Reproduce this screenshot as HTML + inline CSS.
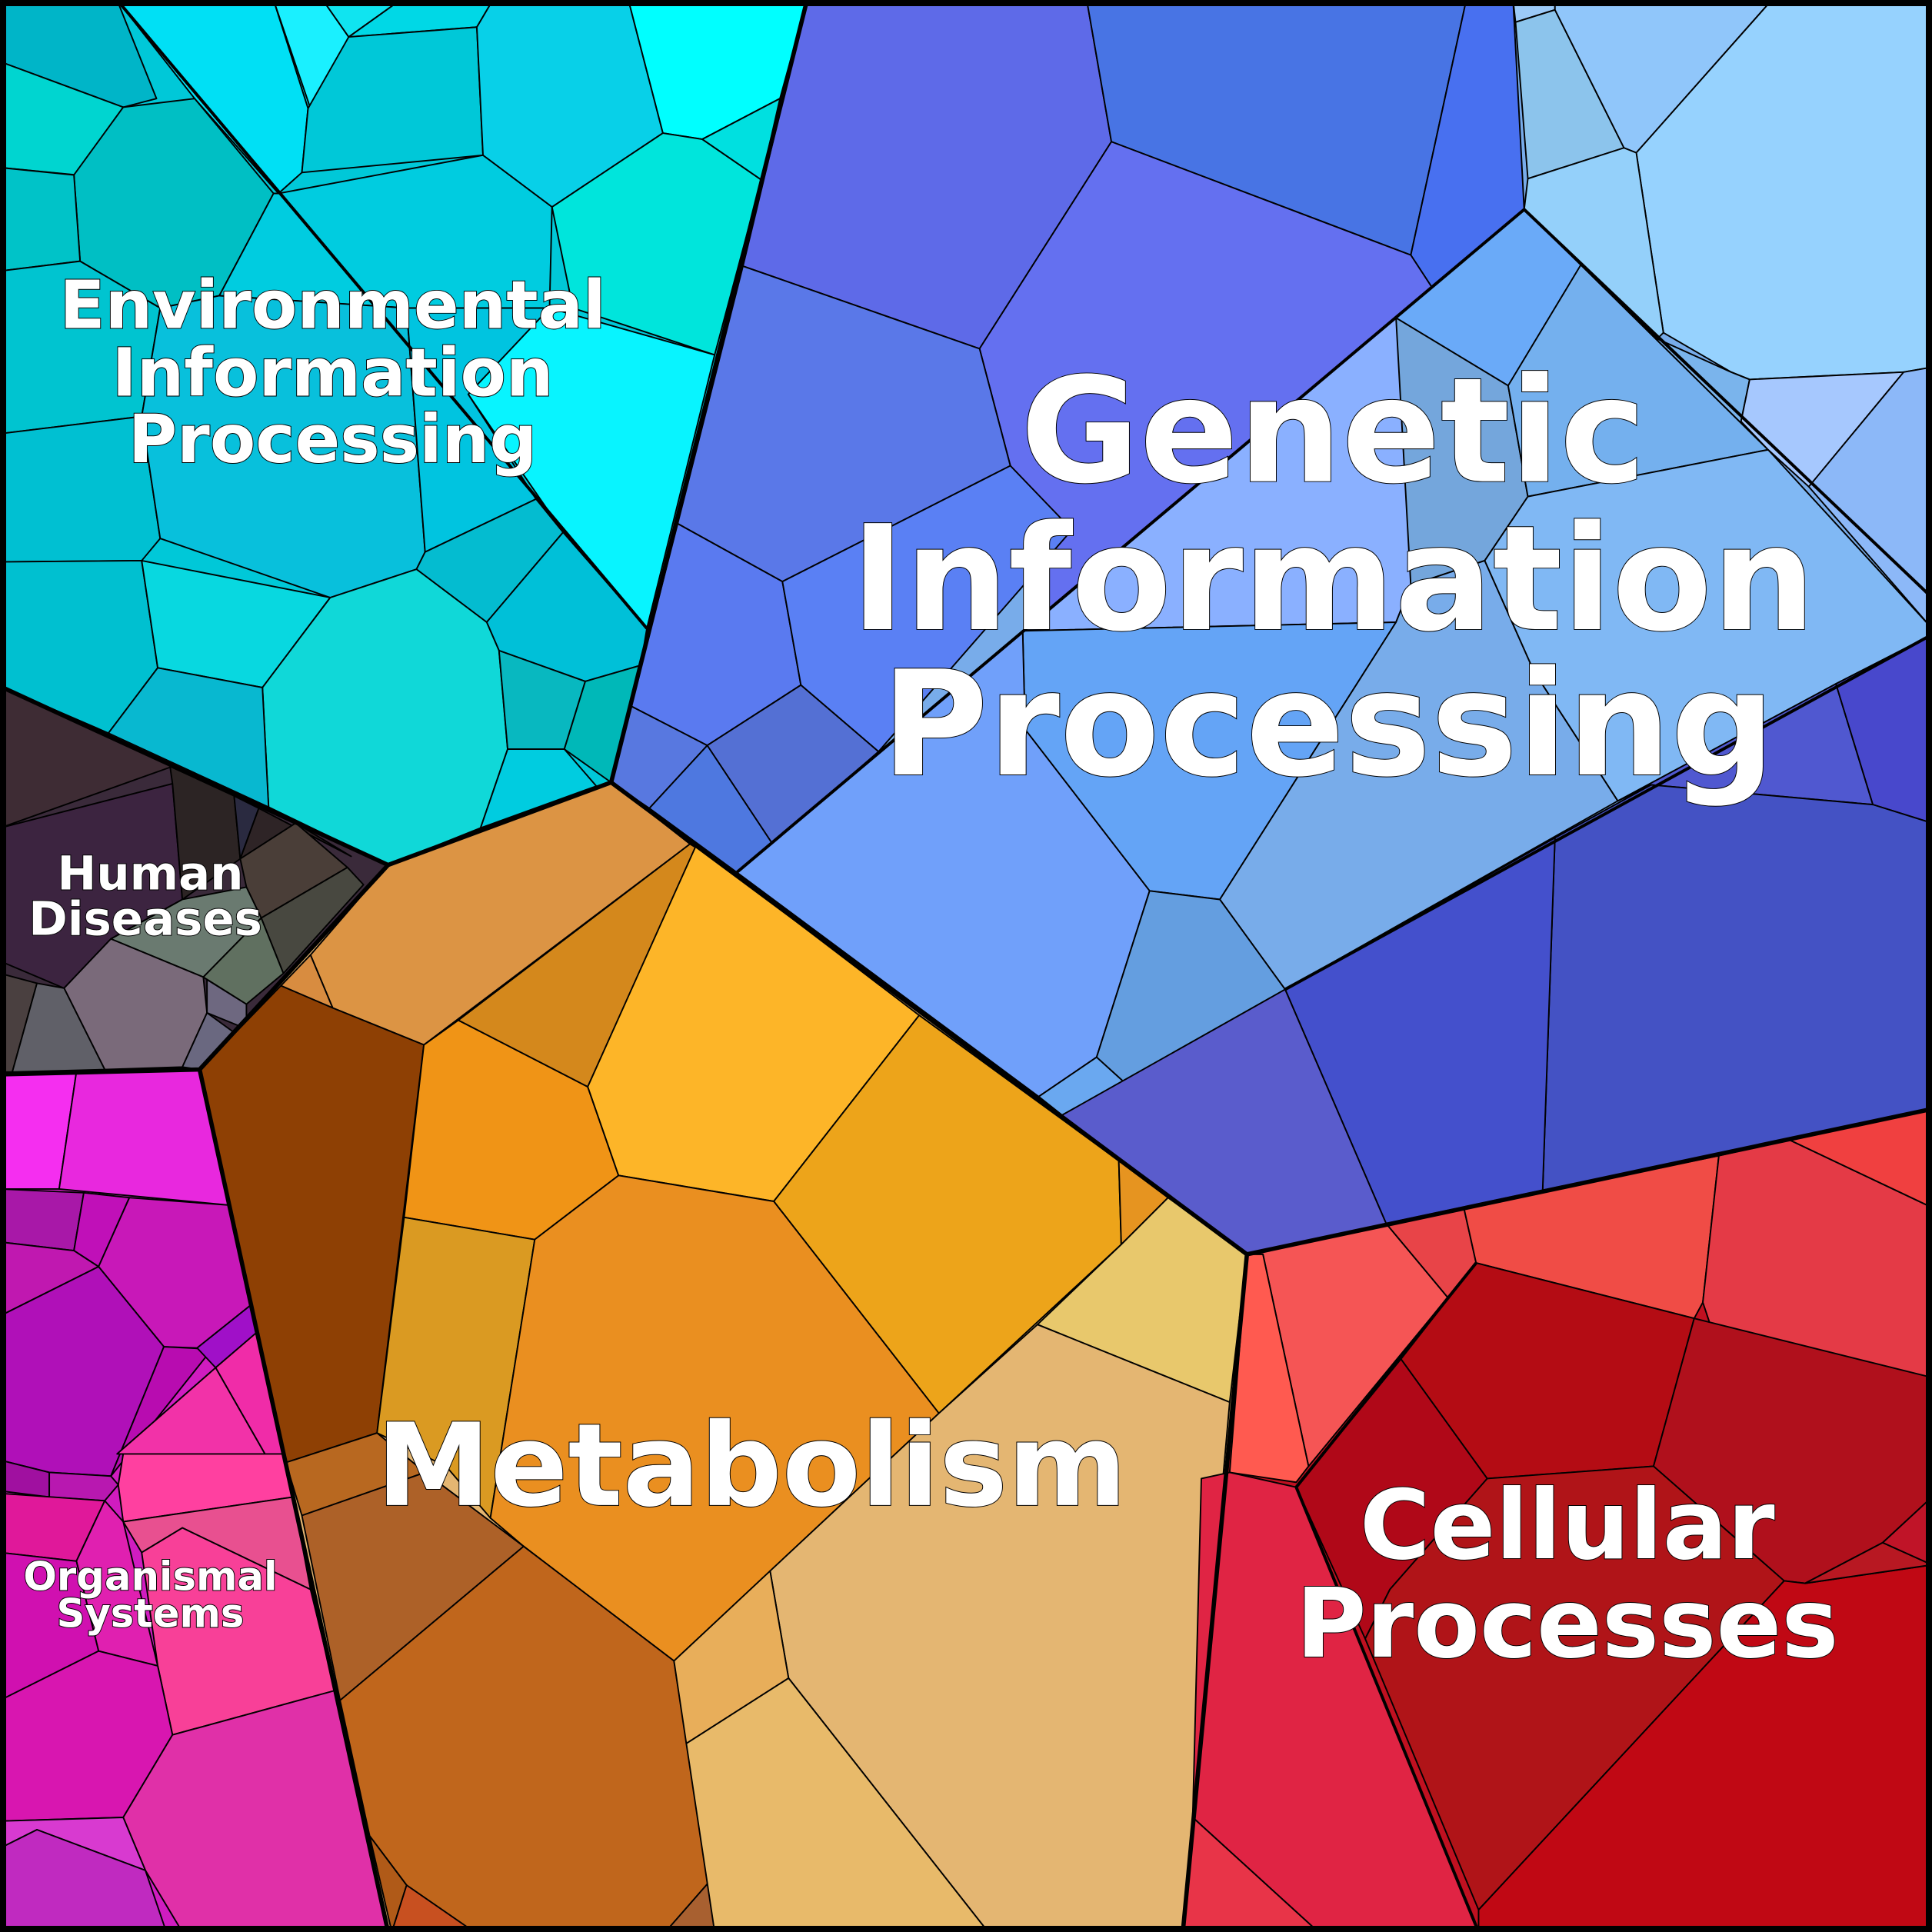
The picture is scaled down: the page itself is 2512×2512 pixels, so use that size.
<!DOCTYPE html>
<html><head><meta charset="utf-8"><style>
html,body{margin:0;padding:0;background:#fff}
svg{display:block}
text{font-family:"DejaVu Sans","Liberation Sans",sans-serif;font-weight:bold;fill:#fff;stroke:#000;stroke-width:1.2;paint-order:stroke;text-anchor:middle;dominant-baseline:central}
</style></head><body>
<svg width="2512" height="2512" viewBox="0 0 1568 1568" xmlns="http://www.w3.org/2000/svg">
<g stroke="none">
<polygon fill="#00c8d8" points="0,0 655,0 496,635 315,702 0,557"/>
<polygon fill="#3a2a3a" points="0,557 315,702 162,868 0,872"/>
<polygon fill="#d01cc0" points="0,872 162,868 315,1568 0,1568"/>
<polygon fill="#e4b672" points="315,702 496,635 1012,1018 960,1568 315,1568 162,868"/>
<polygon fill="#78acea" points="655,0 1568,0 1568,900 1012,1018 496,635"/>
<polygon fill="#c01020" points="1012,1018 1568,900 1568,1568 960,1568"/>
</g>
<g stroke="#000" stroke-width="1.2" stroke-linejoin="round">
<!-- Environmental -->
<polygon fill="#00b5c8" points="0,0 95,0 127,80 100,87 0,50"/>
<polygon fill="#00d5d0" points="0,50 100,87 62,142 0,136"/>
<polygon fill="#00bfc4" points="100,87 158,80 222,157 178,240 130,250 65,212 60,142"/>
<polygon fill="#00c3c8" points="0,136 60,142 65,212 0,220"/>
<polygon fill="#00e0f5" points="95,0 222,0 250,88 245,140 226,157 158,80"/>
<polygon fill="#1af0ff" points="222,0 262,0 283,30 252,88"/>
<polygon fill="#10e4f0" points="262,0 325,0 283,30"/>
<polygon fill="#00d8e6" points="283,30 325,0 400,0 387,22"/>
<polygon fill="#00c8d8" points="250,88 283,30 387,22 392,126 245,140"/>
<polygon fill="#08d0e8" points="387,22 400,0 510,0 538,108 448,168 392,126"/>
<polygon fill="#00ffff" points="510,0 655,0 633,80 570,113 538,108"/>
<polygon fill="#00e5dc" points="538,108 570,113 618,146 580,288 465,250 448,168"/>
<polygon fill="#00e0e0" points="570,113 633,80 618,146"/>
<polygon fill="#00cce0" points="226,157 392,126 448,168 446,250 330,250 178,240 222,157"/>
<polygon fill="#08f4ff" points="446,250 580,288 525,510 457,432 380,320"/>
<polygon fill="#00c4d0" points="0,220 65,212 130,250 115,338 0,352"/>
<polygon fill="#00c0d2" points="0,352 115,338 130,437 115,455 0,456"/>
<polygon fill="#08c0dc" points="115,338 130,250 178,240 330,250 345,448 338,462 268,485 130,437"/>
<polygon fill="#00c4e0" points="330,250 446,250 380,320 435,405 345,448"/>
<polygon fill="#04bcd0" points="345,448 435,405 457,432 395,505 338,462"/>
<polygon fill="#00c0d8" points="457,432 525,510 520,540 475,553 405,528 395,505"/>
<polygon fill="#00c0d0" points="0,456 115,455 128,542 88,595 0,557"/>
<polygon fill="#08d8e0" points="115,455 268,485 213,558 128,542"/>
<polygon fill="#10d8d8" points="268,485 338,462 395,505 405,528 412,608 390,672 315,702 218,655 213,558"/>
<polygon fill="#08b8d0" points="128,542 213,558 218,655 88,595"/>
<polygon fill="#08b8c0" points="405,528 475,553 458,608 412,608"/>
<polygon fill="#00b8b8" points="475,553 520,540 496,635 458,608"/>
<polygon fill="#00cce0" points="412,608 458,608 484,638 390,672"/>
<line x1="95" y1="0" x2="525" y2="510" stroke-width="2.5"/>
<!-- Human diseases -->
<polygon fill="#3e2c34" points="0,557 140,622 0,672"/>
<polygon fill="#3c2440" points="0,672 140,636 148,730 90,762 52,802 0,780"/>
<polygon fill="#2c2424" points="138,622 190,646 195,697 148,730 140,636"/>
<polygon fill="#2a2a40" points="190,646 210,656 195,697"/>
<polygon fill="#2e2426" points="210,656 285,695 240,668 195,697"/>
<polygon fill="#4a3e38" points="195,697 240,668 282,704 212,745 200,720"/>
<polygon fill="#484840" points="212,745 282,704 295,718 230,790"/>
<polygon fill="#6a7a70" points="90,762 148,730 200,720 212,745 165,793"/>
<polygon fill="#7a6a7a" points="52,802 90,762 165,793 168,822 148,866 85,868"/>
<polygon fill="#607060" points="165,793 212,745 230,790 200,815"/>
<polygon fill="#6e6880" points="168,795 200,815 200,835 168,822"/>
<polygon fill="#4a4040" points="0,790 30,798 10,870 0,870"/>
<polygon fill="#606068" points="30,798 52,802 85,868 10,870"/>
<polygon fill="#6a6880" points="148,866 168,822 190,838 162,868"/>
<!-- Organismal -->
<polygon fill="#f52ef0" points="0,872 62,870 48,965 0,965"/>
<polygon fill="#e828de" points="62,870 162,868 185,978 48,965"/>
<polygon fill="#a818a8" points="0,965 68,968 60,1015 0,1008"/>
<polygon fill="#c010b8" points="68,968 105,972 80,1028 60,1015"/>
<polygon fill="#c018b0" points="0,1008 60,1015 80,1028 0,1068"/>
<polygon fill="#c818b8" points="105,972 185,978 205,1058 160,1094 133,1093 80,1028"/>
<polygon fill="#b010b8" points="0,1068 80,1028 133,1093 90,1198 40,1195 0,1185"/>
<polygon fill="#b80cb0" points="133,1093 172,1095 90,1198"/>
<polygon fill="#a010c8" points="160,1094 205,1058 210,1080 175,1110"/>
<polygon fill="#f02ca8" points="175,1110 210,1080 235,1185 215,1180"/>
<polygon fill="#f232a8" points="95,1180 175,1110 215,1180"/>
<polygon fill="#ff40a0" points="96,1205 100,1180 232,1180 238,1215 100,1235"/>
<polygon fill="#a010a0" points="0,1185 40,1195 40,1215 0,1210"/>
<polygon fill="#b818b0" points="40,1195 90,1198 96,1205 85,1218 40,1215"/>
<polygon fill="#e0189a" points="0,1212 85,1218 62,1267 0,1260"/>
<polygon fill="#e020b0" points="85,1218 100,1235 128,1352 80,1340 62,1267"/>
<polygon fill="#e85090" points="100,1235 238,1215 252,1290 148,1240 115,1260"/>
<polygon fill="#f84098" points="115,1260 148,1240 252,1290 272,1372 140,1408 128,1352"/>
<polygon fill="#d010b0" points="0,1260 62,1267 80,1340 0,1380"/>
<polygon fill="#d816b0" points="0,1380 80,1340 128,1352 140,1408 100,1475 0,1478"/>
<polygon fill="#e030a8" points="100,1475 140,1408 272,1372 315,1568 148,1568 118,1518"/>
<polygon fill="#d83ad0" points="0,1478 100,1475 118,1518 30,1485 0,1500"/>
<polygon fill="#c02ac0" points="0,1500 30,1485 118,1518 135,1568 0,1568"/>
<!-- Metabolism -->
<polygon fill="#dc9444" points="315,702 496,635 560,685 344,848 270,818 252,775"/>
<polygon fill="#d88c40" points="228,800 252,775 270,818"/>
<polygon fill="#8e4004" points="162,868 228,800 270,818 344,848 306,1163 232,1187"/>
<polygon fill="#f09416" points="344,848 372,828 477,882 502,954 434,1006 328,988"/>
<polygon fill="#d4881c" points="372,828 560,685 565,688 477,882"/>
<polygon fill="#fdb528" points="565,686 746,824 628,975 502,954 477,882"/>
<polygon fill="#eda41a" points="746,824 908,942 910,1010 762,1147 628,975"/>
<polygon fill="#e69420" points="908,942 948,972 910,1010"/>
<polygon fill="#e8c86c" points="948,972 1012,1018 998,1138 842,1075 910,1010"/>
<polygon fill="#da9a22" points="328,988 434,1006 398,1232 362,1190 306,1163"/>
<polygon fill="#ea8f20" points="434,1006 502,954 628,975 762,1147 547,1348 425,1255 398,1232"/>
<polygon fill="#b86820" points="232,1187 306,1163 345,1195 245,1230"/>
<polygon fill="#ad6128" points="245,1230 345,1195 425,1255 276,1380"/>
<polygon fill="#c0661c" points="276,1380 425,1255 547,1348 575,1528 540,1568 385,1568 330,1530 300,1490"/>
<polygon fill="#b05a18" points="300,1490 330,1530 318,1568"/>
<polygon fill="#c85020" points="330,1530 385,1568 318,1568"/>
<polygon fill="#a86030" points="540,1568 575,1528 580,1568"/>
<polygon fill="#e4b672" points="842,1075 998,1138 960,1568 802,1568 640,1362 625,1275 762,1147"/>
<polygon fill="#e8ae5a" points="547,1348 625,1275 640,1362 557,1415"/>
<polygon fill="#e8ba6a" points="557,1415 640,1362 802,1568 580,1568"/>
<!-- Genetic -->
<polygon fill="#5e6ae8" points="655,0 882,0 902,115 795,283 603,216"/>
<polygon fill="#4874e4" points="882,0 1190,0 1145,207 902,115"/>
<polygon fill="#4870f0" points="1190,0 1228,0 1237,170 1162,233 1145,207"/>
<polygon fill="#6470f0" points="902,115 1145,207 1162,233 850,495 820,378 795,283"/>
<polygon fill="#5a78e8" points="603,216 795,283 820,378 635,472 550,425"/>
<polygon fill="#5a7af0" points="550,425 635,472 650,556 574,605 512,573"/>
<polygon fill="#5a80f4" points="635,472 820,378 870,430 713,610 650,556"/>
<polygon fill="#5878e0" points="512,573 574,605 527,656 496,635"/>
<polygon fill="#5470d4" points="574,605 650,556 713,610 627,685"/>
<polygon fill="#4e78e0" points="527,656 574,605 627,685 598,708"/>
<polygon fill="#6aaaf8" points="1237,170 1283,215 1224,313 1133,258"/>
<polygon fill="#74a6dc" points="1133,258 1224,313 1240,403 1205,455 1145,475 1100,285"/>
<polygon fill="#8ab0ff" points="850,495 1100,285 1133,258 1145,475 1133,505 830,512"/>
<polygon fill="#64a4f6" points="830,512 1133,505 990,730 933,723 832,592"/>
<polygon fill="#70a0fa" points="598,708 850,495 830,512 832,592 933,723 890,858 843,890"/>
<polygon fill="#78acea" points="1145,475 1205,455 1245,545 1313,650 1043,803 990,730 1133,505"/>
<polygon fill="#649ee0" points="933,723 990,730 1043,803 912,878 890,858"/>
<polygon fill="#6aa8f0" points="843,890 890,858 912,878 862,905"/>
<polygon fill="#74b0ee" points="1224,313 1283,215 1435,365 1240,403"/>
<polygon fill="#80b8f4" points="1240,403 1435,365 1568,510 1568,515 1490,555 1340,637 1313,650 1245,545 1205,455"/>
<polygon fill="#9ccaf8" points="1228,0 1262,0 1262,8 1230,18"/>
<polygon fill="#8cc4ec" points="1230,18 1262,8 1318,120 1240,145"/>
<polygon fill="#90c6fa" points="1262,0 1438,0 1328,124 1318,120 1262,8"/>
<polygon fill="#96d2fe" points="1438,0 1568,0 1568,298 1545,302 1420,308 1405,302 1350,270 1328,124"/>
<polygon fill="#94d0fa" points="1240,145 1318,120 1328,124 1350,270 1345,275 1283,215 1237,170"/>
<polygon fill="#7ab4ec" points="1283,215 1345,275 1405,302 1420,308 1413,342 1435,365"/>
<polygon fill="#a6c8fe" points="1420,308 1545,302 1468,395 1435,365 1413,342"/>
<polygon fill="#8cb8f8" points="1545,302 1568,298 1568,510 1468,395"/>
<polygon fill="#5058d0" points="1313,650 1490,555 1520,653 1430,645 1340,637"/>
<polygon fill="#4848cc" points="1490,555 1568,515 1568,668 1520,653"/>
<polygon fill="#4452c4" points="1340,637 1520,653 1568,668 1568,900 1252,966 1262,680"/>
<polygon fill="#4450cc" points="1043,803 1262,680 1252,966 1125,993"/>
<polygon fill="#5a5ccc" points="862,905 1043,803 1125,993 1012,1018"/>
<line x1="1237" y1="170" x2="598" y2="708" stroke-width="2.5"/>
<line x1="1237" y1="170" x2="1568" y2="485" stroke-width="2.5"/>
<line x1="1043" y1="803" x2="1568" y2="515" stroke-width="2.5"/>
<!-- Cellular -->
<polygon fill="#f55555" points="1012,1018 1125,993 1175,1053 1062,1190 1025,1018"/>
<polygon fill="#ff5a50" points="1012,1018 1025,1018 1062,1190 1052,1203 998,1195"/>
<polygon fill="#e84448" points="1125,993 1188,980 1198,1025 1175,1053"/>
<polygon fill="#f04c46" points="1188,980 1395,938 1382,1057 1375,1070 1198,1025"/>
<polygon fill="#e43a46" points="1395,938 1452,925 1568,980 1568,1118 1388,1075 1382,1057"/>
<polygon fill="#f04040" points="1452,925 1568,900 1568,980"/>
<polygon fill="#b40c14" points="1198,1025 1375,1070 1342,1190 1207,1200 1137,1103"/>
<polygon fill="#b0101c" points="1375,1070 1568,1118 1568,1215 1528,1252 1465,1285 1448,1283 1342,1190"/>
<polygon fill="#b00818" points="1137,1103 1207,1200 1128,1290 1108,1330 1052,1207"/>
<polygon fill="#b01418" points="1207,1200 1342,1190 1448,1283 1200,1550 1108,1330 1128,1290"/>
<polygon fill="#c00814" points="1448,1283 1465,1285 1568,1270 1568,1568 1200,1568 1200,1550"/>
<polygon fill="#b81822" points="1465,1285 1528,1252 1568,1270"/>
<polygon fill="#c01428" points="1528,1252 1568,1215 1568,1270"/>
<polygon fill="#e02444" points="998,1195 1052,1207 1200,1568 1070,1568 968,1475 975,1200"/>
<polygon fill="#e83448" points="968,1475 1070,1568 960,1568"/>
<line x1="1198" y1="1025" x2="1052" y2="1207" stroke-width="2.5"/>
<line x1="1052" y1="1207" x2="1200" y2="1568" stroke-width="2.5"/>
</g>
<g fill="none" stroke="#000" stroke-width="3.5" stroke-linejoin="round">
<polyline points="655,0 496,635 315,702 0,557"/>
<polyline points="315,702 162,868 0,872"/>
<polyline points="162,868 315,1568"/>
<polyline points="496,635 1012,1018 960,1568"/>
<polyline points="1012,1018 1568,900"/>
<rect x="2.5" y="2.5" width="1563" height="1563" stroke-width="5"/>
</g>
<text x="1082" y="350" font-size="118">Genetic</text>
<text x="1082" y="470" font-size="118">Information</text>
<text x="1078" y="588" font-size="118">Processing</text>
<text x="610" y="1190" font-size="93">Metabolism</text>
<text x="1272" y="1238" font-size="78">Cellular</text>
<text x="1272" y="1318" font-size="78">Processes</text>
<text x="270" y="248" font-size="54">Environmental</text>
<text x="270" y="303" font-size="54">Information</text>
<text x="270" y="357" font-size="54">Processing</text>
<text x="122" y="709" font-size="38">Human</text>
<text x="118" y="746" font-size="38">Diseases</text>
<text x="122" y="1280" font-size="32">Organismal</text>
<text x="122" y="1310" font-size="32">Systems</text>
</svg>
</body></html>
